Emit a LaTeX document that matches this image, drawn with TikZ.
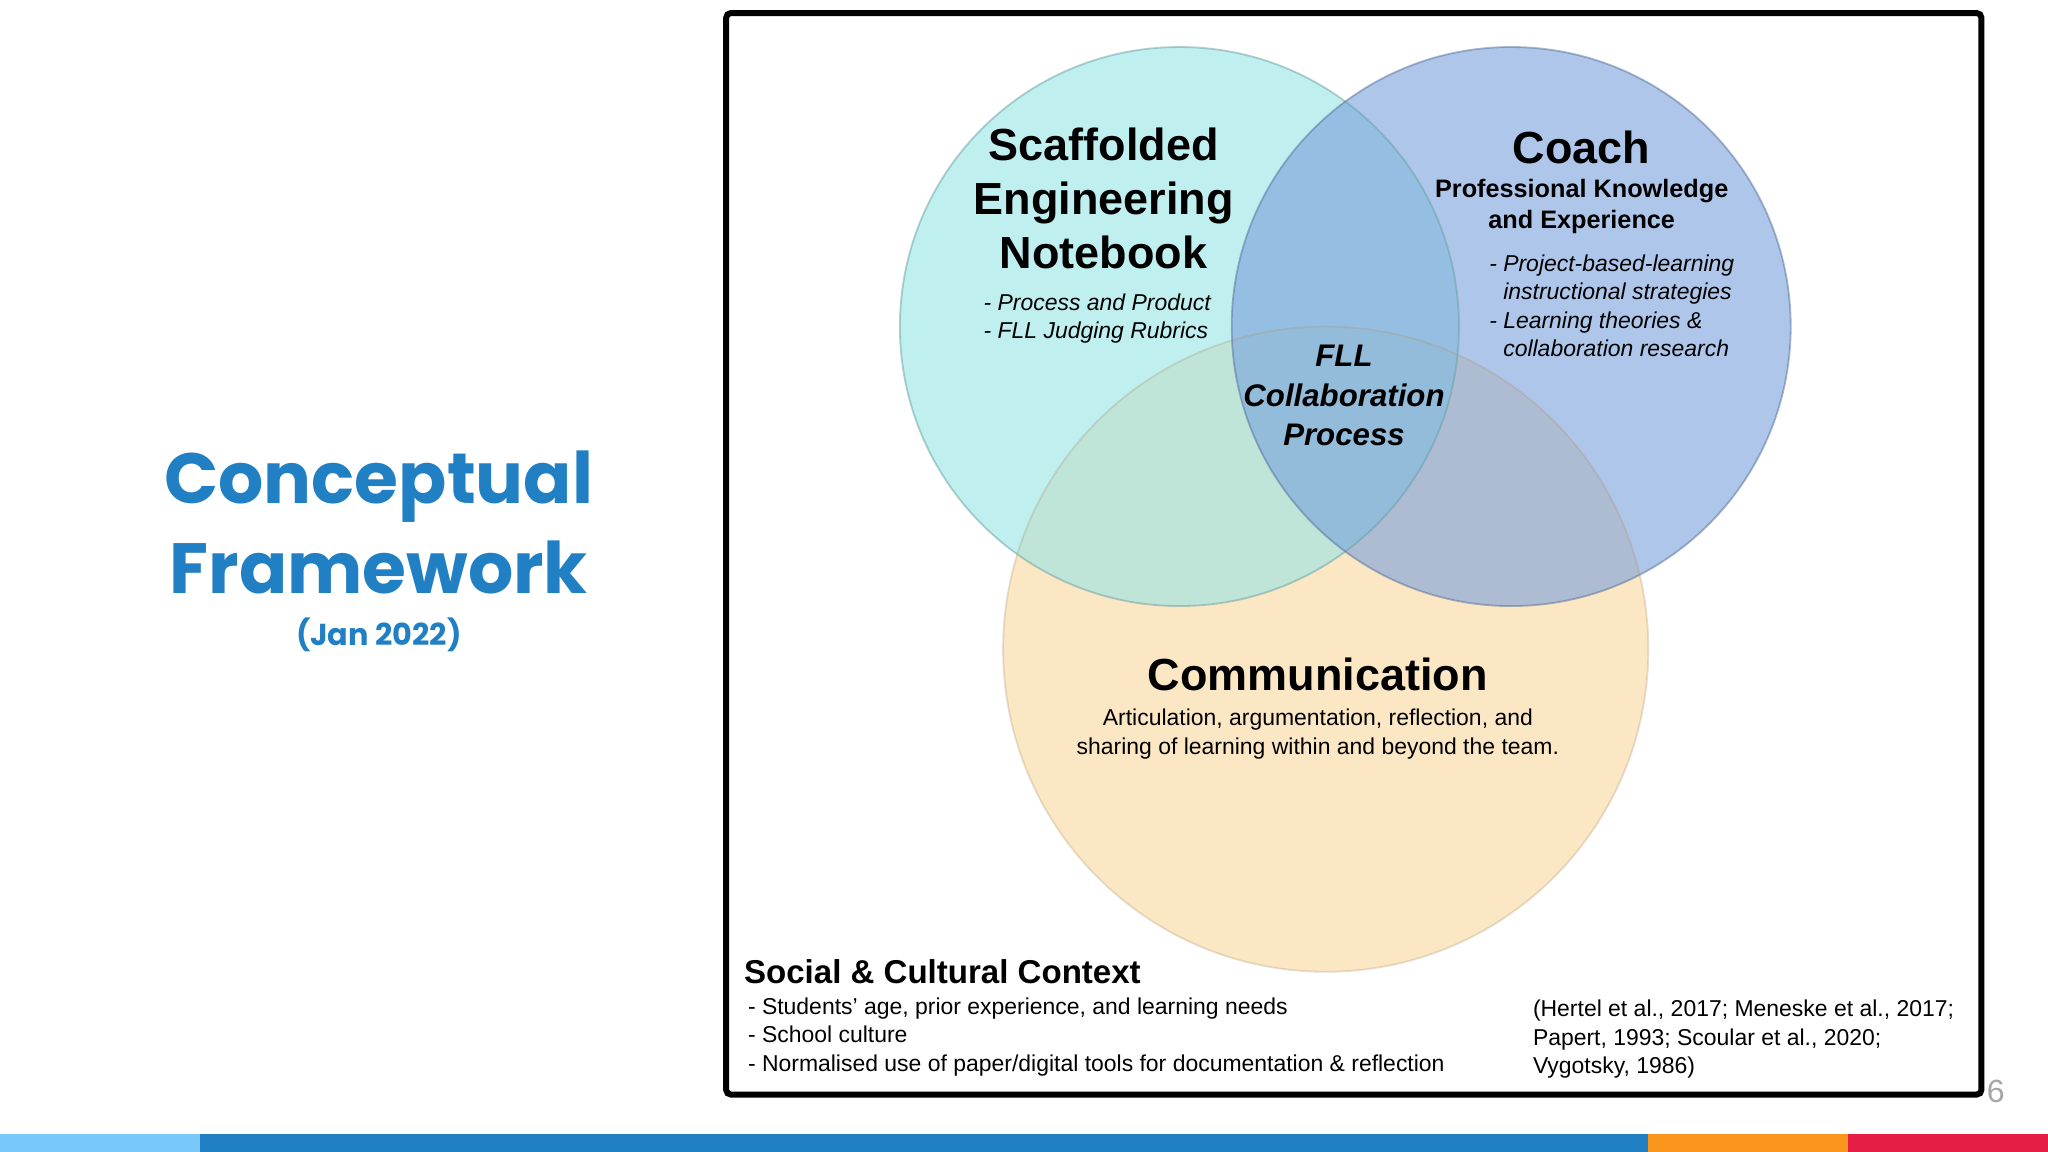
\documentclass[tikz,border=0pt]{standalone}
\usepackage{fontspec}
\setmainfont{Liberation Sans}
\newfontfamily\titlefont{Poppins}
\definecolor{TitleBlue}{RGB}{33,128,196}
\definecolor{CyanSet}{RGB}{150,228,230}
\definecolor{BlueSet}{RGB}{120,160,220}
\definecolor{OrangeSet}{RGB}{250,218,165}
\definecolor{BarLight}{RGB}{120,200,250}
\definecolor{BarOrange}{RGB}{250,150,30}
\definecolor{BarRed}{RGB}{230,30,70}
\tikzset{
  setfill/.style={fill=#1,fill opacity=.6},
  head/.style={font=\fontsize{9.8}{11.8}\selectfont\bfseries,align=center},
  sub/.style={font=\fontsize{5.5}{6.6}\selectfont\bfseries,align=center},
  item/.style={font=\fontsize{5}{6.2}\selectfont\itshape,align=left},
  plain/.style={font=\fontsize{5}{6.2}\selectfont,align=left,inner sep=0pt},
}
\begin{document}
\begin{tikzpicture}[x=0.1mm,y=-0.1mm]
\useasboundingbox (0,0) rectangle (1568,882);
% slide title
\node[text=TitleBlue,font=\titlefont\fontsize{15.5}{19.5}\selectfont\bfseries,align=center] (title) at (290,400) {Conceptual\\Framework};
\node[text=TitleBlue,font=\titlefont\fontsize{6.6}{8}\selectfont\bfseries] (date) at (290,486) {(Jan 2022)};
% frame
\draw[line width=1.3pt,rounded corners=1pt] (556,10) rectangle (1517,838);
% the three sets
\fill[setfill=OrangeSet,fill opacity=.65] (1015,497) circle (247);
\fill[setfill=CyanSet] (903,250) circle (214);
\fill[setfill=BlueSet] (1157,250) circle (214);
\draw[CyanSet!70!black,opacity=.5] (903,250) circle (214);
\draw[BlueSet!70!black,opacity=.5] (1157,250) circle (214);
\draw[OrangeSet!70!black,opacity=.3] (1015,497) circle (247);
% labels
\node[head] (notebook) at (845,152) {Scaffolded\\Engineering\\Notebook};
\node[item] (notebooklist) at (840,244) {- Process and Product\\- FLL Judging Rubrics};
\node[head] (coach) at (1211,113) {Coach};
\node[sub] (coachsub) at (1211,158) {Professional Knowledge\\and Experience};
\node[item] (coachlist) at (1234,234) {- Project-based-learning\\\phantom{- }instructional strategies\\- Learning theories \&\\\phantom{- }collaboration research};
\node[font=\fontsize{6.8}{8.6}\selectfont\bfseries\itshape,align=center] (fll) at (1029,303) {FLL\\Collaboration\\Process};
\node[head] (comm) at (1009,516) {Communication};
\node[plain,align=center] (commsub) at (1009,562) {Articulation, argumentation, reflection, and\\sharing of learning within and beyond the team.};
\node[anchor=west,inner sep=0pt,font=\fontsize{7.2}{9}\selectfont\bfseries] (social) at (569,744) {Social \& Cultural Context};
\node[plain,anchor=north west] (sociallist) at (572,763) {- Students' age, prior experience, and learning needs\\- School culture\\- Normalised use of paper/digital tools for documentation \& reflection};
\node[plain,anchor=north west] (refs) at (1173,765) {(Hertel et al., 2017; Meneske et al., 2017;\\Papert, 1993; Scoular et al., 2020;\\Vygotsky, 1986)};
% page number and bar
\node[text=gray!70,font=\fontsize{7}{8}\selectfont] (page) at (1528,836) {6};
\fill[BarLight] (0,868) rectangle (153,882);
\fill[TitleBlue] (153,868) rectangle (1262,882);
\fill[BarOrange] (1262,868) rectangle (1415,882);
\fill[BarRed] (1415,868) rectangle (1568,882);
\end{tikzpicture}
\end{document}
